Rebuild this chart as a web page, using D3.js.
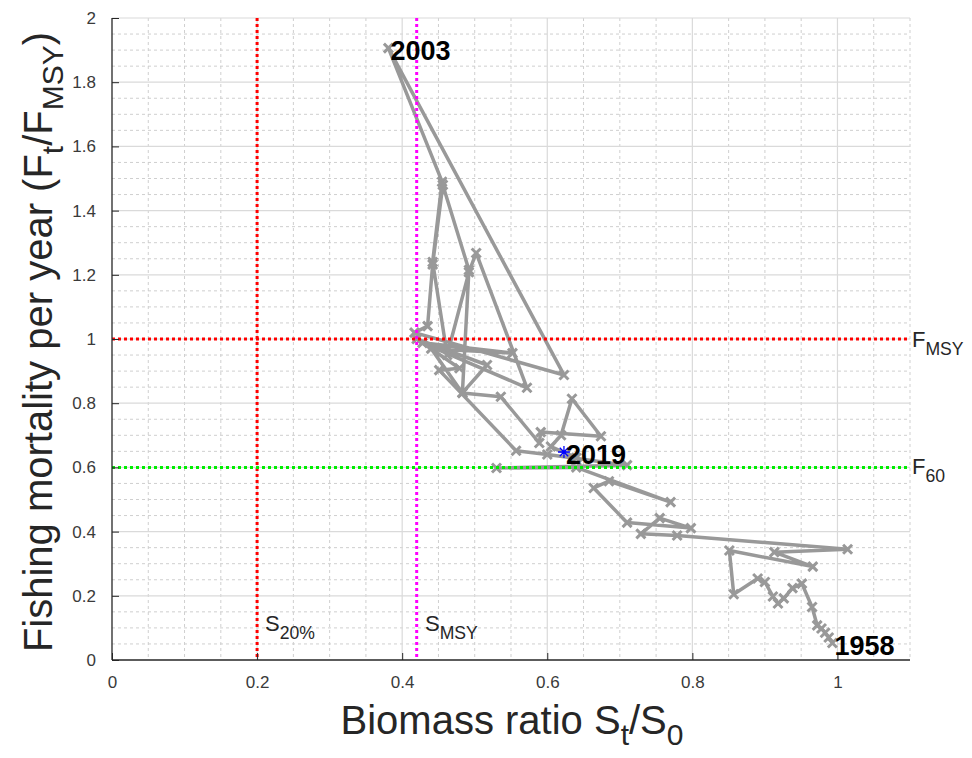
<!DOCTYPE html>
<html>
<head>
<meta charset="utf-8">
<script src="https://cdn.jsdelivr.net/npm/d3@7/dist/d3.min.js"></script>
<style>
  body { margin: 0; background: #fff; }
  svg text { font-family: "Liberation Sans", Arial, Helvetica, sans-serif; }
</style>
</head>
<body>
<div id="chart"></div>
<script>
// ---- data ----
var years = [1958,1959,1960,1961,1962,1963,1964,1965,1966,1967,1968,1969,1970,1971,1972,1973,1974,1975,
             1976,1977,1978,1979,1980,1981,1982,1983,1984,1985,1986,1987,1988,1989,1990,1991,1992,1993,
             1994,1995,1996,1997,1998,1999,2000,2001,2002,2003,2004,2005,2006,2007,2008,2009,2010,2011,
             2012,2013,2014,2015,2016,2017,2018,2019];
var biomass = [0.993,0.988,0.983,0.978,0.972,0.965,0.951,0.938,0.926,0.918,0.911,0.900,0.890,0.857,0.851,0.966,0.913,1.014,
               0.779,0.729,0.755,0.798,0.710,0.664,0.685,0.770,0.640,0.530,0.710,0.600,0.557,0.451,0.479,0.420,0.517,0.483,
               0.440,0.552,0.428,0.572,0.502,0.492,0.462,0.442,0.455,0.381,0.623,0.417,0.435,0.442,0.456,0.492,0.483,0.536,
               0.589,0.591,0.674,0.634,0.619,0.605,0.640,0.623];
var fishing = [0.053,0.070,0.085,0.098,0.108,0.165,0.238,0.224,0.192,0.176,0.198,0.243,0.254,0.205,0.341,0.291,0.336,0.345,
               0.388,0.393,0.442,0.411,0.428,0.536,0.557,0.492,0.600,0.598,0.607,0.640,0.652,0.903,0.909,1.000,0.919,0.832,
               0.970,0.956,0.988,0.848,1.268,1.208,0.950,1.240,1.490,1.906,0.888,1.020,1.040,1.232,1.480,1.215,0.832,0.820,
               0.676,0.710,0.697,0.814,0.700,0.665,0.630,0.648];
var labelYears = [2003, 1958, 2019];

var xTicks = [0, 0.2, 0.4, 0.6, 0.8, 1];
var xTickLabels = ["0", "0.2", "0.4", "0.6", "0.8", "1"];
var yTicks = [0, 0.2, 0.4, 0.6, 0.8, 1, 1.2, 1.4, 1.6, 1.8, 2];
var yTickLabels = ["0", "0.2", "0.4", "0.6", "0.8", "1", "1.2", "1.4", "1.6", "1.8", "2"];
var minorStep = 0.05;

// reference levels
var sLimit = 0.2, sMsy = 0.42, fMsy = 1, f60 = 0.6;

// ---- layout ----
var W = 972, H = 758;
var pL = 112, pR = 910, pT = 18, pB = 660;

var x = d3.scaleLinear().domain([0, 1.1]).range([pL, pR]);
var y = d3.scaleLinear().domain([0, 2]).range([pB, pT]);

var svg = d3.select("#chart").append("svg")
  .attr("width", W).attr("height", H);

function isMajor(v) { return Math.abs(v / 0.2 - Math.round(v / 0.2)) < 1e-6; }
var xMinor = d3.range(0, 1.1 + 1e-9, minorStep).filter(function(v){ return !isMajor(v); });
var yMinor = d3.range(0, 2 + 1e-9, minorStep).filter(function(v){ return !isMajor(v); });

// grid: minor dashed, major solid
var grid = svg.append("g");
grid.selectAll(".xm").data(xMinor).enter().append("line")
  .attr("x1", function(d){ return x(d); }).attr("x2", function(d){ return x(d); })
  .attr("y1", pT).attr("y2", pB)
  .attr("stroke", "#cfcfcf").attr("stroke-width", 1).attr("stroke-dasharray", "3,3");
grid.selectAll(".ym").data(yMinor).enter().append("line")
  .attr("y1", function(d){ return y(d); }).attr("y2", function(d){ return y(d); })
  .attr("x1", pL).attr("x2", pR)
  .attr("stroke", "#cfcfcf").attr("stroke-width", 1).attr("stroke-dasharray", "3,3");
grid.selectAll(".xM").data(xTicks.slice(1)).enter().append("line")
  .attr("x1", function(d){ return x(d); }).attr("x2", function(d){ return x(d); })
  .attr("y1", pT).attr("y2", pB)
  .attr("stroke", "#dadada").attr("stroke-width", 1.2);
grid.selectAll(".yM").data(yTicks.slice(1)).enter().append("line")
  .attr("y1", function(d){ return y(d); }).attr("y2", function(d){ return y(d); })
  .attr("x1", pL).attr("x2", pR)
  .attr("stroke", "#dadada").attr("stroke-width", 1.2);

// trajectory
var pts = years.map(function(yr, i){ return {year: yr, s: biomass[i], f: fishing[i]}; });
var line = d3.line().x(function(d){ return x(d.s); }).y(function(d){ return y(d.f); });

svg.append("path").datum(pts)
  .attr("d", line)
  .attr("fill", "none")
  .attr("stroke", "#999999")
  .attr("stroke-width", 3.5)
  .attr("stroke-linejoin", "round");

var m = 4.5;
svg.append("g").selectAll("path").data(pts.slice(0, pts.length - 1)).enter().append("path")
  .attr("d", function(d){
    var cx = x(d.s), cy = y(d.f);
    return "M" + (cx-m) + "," + (cy-m) + "L" + (cx+m) + "," + (cy+m) +
           "M" + (cx-m) + "," + (cy+m) + "L" + (cx+m) + "," + (cy-m);
  })
  .attr("stroke", "#999999").attr("stroke-width", 3).attr("fill", "none");

// last year: blue asterisk
var last = pts[pts.length - 1];
var a = 6, lx = x(last.s), ly = y(last.f);
svg.append("path")
  .attr("d", "M" + (lx-a) + "," + ly + "L" + (lx+a) + "," + ly +
             "M" + lx + "," + (ly-a) + "L" + lx + "," + (ly+a) +
             "M" + (lx-a*0.7) + "," + (ly-a*0.7) + "L" + (lx+a*0.7) + "," + (ly+a*0.7) +
             "M" + (lx-a*0.7) + "," + (ly+a*0.7) + "L" + (lx+a*0.7) + "," + (ly-a*0.7))
  .attr("stroke", "#0000ff").attr("stroke-width", 1.3);

// reference lines
var dots = "3,3";
svg.append("line").attr("x1", x(sLimit)).attr("x2", x(sLimit)).attr("y1", pT).attr("y2", pB)
  .attr("stroke", "#ff0000").attr("stroke-width", 3).attr("stroke-dasharray", dots);
svg.append("line").attr("x1", x(sMsy)).attr("x2", x(sMsy)).attr("y1", pT).attr("y2", pB)
  .attr("stroke", "#ff00ff").attr("stroke-width", 3).attr("stroke-dasharray", dots);
svg.append("line").attr("x1", pL).attr("x2", pR).attr("y1", y(fMsy)).attr("y2", y(fMsy))
  .attr("stroke", "#ff0000").attr("stroke-width", 3).attr("stroke-dasharray", dots);
svg.append("line").attr("x1", pL).attr("x2", pR).attr("y1", y(f60)).attr("y2", y(f60))
  .attr("stroke", "#00ee00").attr("stroke-width", 3).attr("stroke-dasharray", dots);

// axes (ticks point inward)
var xAxis = d3.axisBottom(x).tickValues(xTicks).tickSize(-7).tickPadding(16)
  .tickFormat(function(d, i){ return xTickLabels[i]; });
var yAxis = d3.axisLeft(y).tickValues(yTicks).tickSize(-7).tickPadding(16)
  .tickFormat(function(d, i){ return yTickLabels[i]; });

var gx = svg.append("g").attr("transform", "translate(0," + pB + ")").call(xAxis);
var gy = svg.append("g").attr("transform", "translate(" + pL + ",0)").call(yAxis);
[gx, gy].forEach(function(g){
  g.select(".domain").attr("stroke", "#262626").attr("stroke-width", 1.3);
  g.selectAll(".tick line").attr("stroke", "#262626");
  g.selectAll(".tick text").attr("fill", "#3a3a3a").style("font-size", "17px");
});
gx.select(".domain").attr("d", "M" + pL + ",0H" + pR);
gy.select(".domain").attr("d", "M0," + pB + "V" + pT);

// year labels
svg.append("g").selectAll("text").data(pts.filter(function(d){ return labelYears.indexOf(d.year) >= 0; }))
  .enter().append("text")
  .attr("x", function(d){ return x(d.s) + 2; })
  .attr("y", function(d){ return y(d.f) + 12; })
  .style("font-size", "27px").style("font-weight", "bold")
  .attr("fill", "#000")
  .text(function(d){ return d.year; });

// reference labels
function subLabel(px, py, main, sub, size) {
  var t = svg.append("text").attr("x", px).attr("y", py).attr("fill", "#262626").style("font-size", size + "px");
  t.append("tspan").text(main);
  t.append("tspan").attr("dy", size * 0.35).style("font-size", (size * 0.8) + "px").text(sub);
}
subLabel(265, 631, "S", "20%", 22);
subLabel(425, 631, "S", "MSY", 22);
subLabel(912, 347, "F", "MSY", 22);
subLabel(912, 474, "F", "60", 22);

// axis titles
var xt = svg.append("text").attr("x", 512).attr("y", 734).attr("text-anchor", "middle")
  .attr("fill", "#262626").style("font-size", "40px");
xt.append("tspan").text("Biomass ratio S");
xt.append("tspan").attr("dy", 11).style("font-size", "30px").text("t");
xt.append("tspan").attr("dy", -11).text("/S");
xt.append("tspan").attr("dy", 11).style("font-size", "30px").text("0");

var yt = svg.append("text").attr("transform", "translate(52," + 342 + ") rotate(-90)")
  .attr("text-anchor", "middle").attr("fill", "#262626").style("font-size", "40px");
yt.append("tspan").text("Fishing mortality per year (F");
yt.append("tspan").attr("dy", 11).style("font-size", "30px").text("t");
yt.append("tspan").attr("dy", -11).text("/F");
yt.append("tspan").attr("dy", 11).style("font-size", "30px").text("MSY");
yt.append("tspan").attr("dy", -11).text(")");
</script>
</body>
</html>
